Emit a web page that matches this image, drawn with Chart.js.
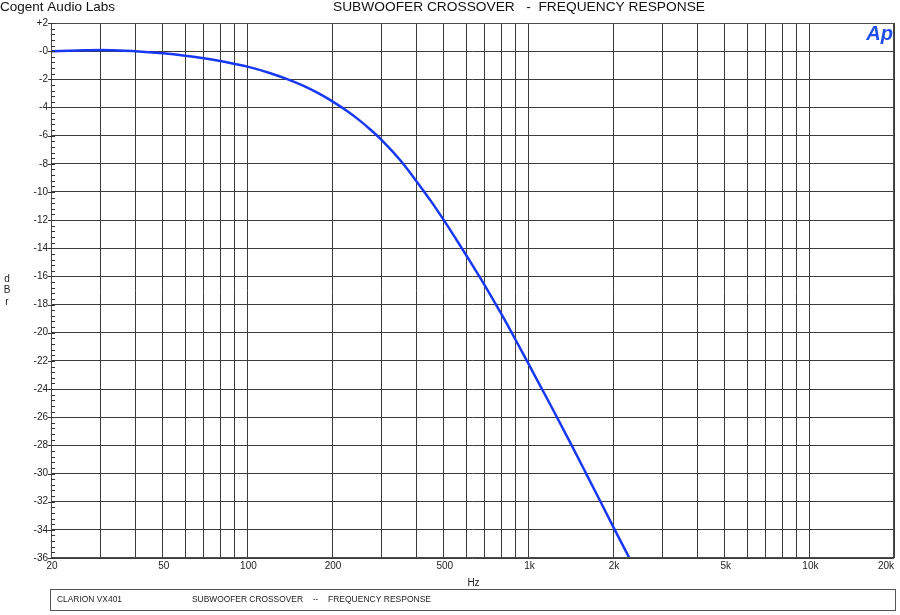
<!DOCTYPE html>
<html>
<head>
<meta charset="utf-8">
<script src="https://cdn.jsdelivr.net/npm/chart.js@4"></script>
<style>
  html, body { margin: 0; padding: 0; background: #ffffff; }
  #wrap { width: 900px; height: 615px; position: relative; }
</style>
</head>
<body>
<div id="wrap"><canvas id="c" width="900" height="615"></canvas></div>
<script>
// ---- data ----
const freqHz = [20, 25, 30, 35, 40, 50, 60, 70, 80, 90, 100, 120, 140, 160, 180, 200, 225, 250, 275, 300, 350, 400, 450, 500, 550, 600, 700, 800, 900, 1000, 1200, 1400, 1600, 1800, 2000, 2300];
const levelDb = [0.0, 0.05, 0.08, 0.05, 0.0, -0.15, -0.32, -0.5, -0.7, -0.91, -1.1, -1.55, -2.02, -2.5, -3.02, -3.55, -4.22, -4.9, -5.6, -6.3, -7.75, -9.25, -10.65, -12.0, -13.28, -14.48, -16.65, -18.65, -20.5, -22.2, -25.15, -27.7, -29.95, -31.95, -33.75, -36.1];

const xGridHz = [20, 30, 40, 50, 60, 70, 80, 90, 100, 200, 300, 400, 500, 600, 700, 800, 900, 1000, 2000, 3000, 4000, 5000, 6000, 7000, 8000, 9000, 10000, 20000];
const xLabelHz = [20, 50, 100, 200, 500, 1000, 2000, 5000, 10000, 20000];
const xLabelText = ['20', '50', '100', '200', '500', '1k', '2k', '5k', '10k', '20k'];
const yTickDb = [2, 0, -2, -4, -6, -8, -10, -12, -14, -16, -18, -20, -22, -24, -26, -28, -30, -32, -34, -36];
const yLabelText = ['+2', '-0', '-2', '-4', '-6', '-8', '-10', '-12', '-14', '-16', '-18', '-20', '-22', '-24', '-26', '-28', '-30', '-32', '-34', '-36'];

const companyText = 'Cogent Audio Labs';
const titleText = 'SUBWOOFER CROSSOVER   -  FREQUENCY RESPONSE';
const yAxisText = ['d', 'B', 'r'];
const xAxisText = 'Hz';
const footDevice = 'CLARION VX401';
const footTitle = 'SUBWOOFER CROSSOVER';
const footDash = '--';
const footSub = 'FREQUENCY RESPONSE';
const logoText = 'Ap';

const FONT = '"Liberation Sans", Arial, Helvetica, sans-serif';

function fitText(ctx, text, x, y, width) {
  const w = ctx.measureText(text).width;
  ctx.save();
  ctx.translate(x, y);
  ctx.scale(width / w, 1);
  ctx.fillText(text, 0, 0);
  ctx.restore();
}

const decor = {
  id: 'decor',
  afterDraw(chart) {
    const ctx = chart.ctx;
    const a = chart.chartArea;
    const xs = chart.scales.x, ys = chart.scales.y;
    ctx.save();

    // frame
    ctx.strokeStyle = '#4a4a4a';
    ctx.lineWidth = 1;
    ctx.strokeRect(Math.round(a.left) + 0.5, Math.round(a.top) + 0.5, Math.round(a.right - a.left) - 1, Math.round(a.bottom - a.top) - 1);

    // minor y ticks every 0.4 dB, major ticks outside
    ctx.strokeStyle = '#333';
    ctx.beginPath();
    for (let i = 0; i <= 95; i++) {
      const v = 2 - i * 0.4;
      const y = Math.round(ys.getPixelForValue(v)) + 0.5;
      ctx.moveTo(a.left, y);
      ctx.lineTo(a.left + 4, y);
    }
    yTickDb.forEach(v => {
      const y = Math.round(ys.getPixelForValue(v)) + 0.5;
      ctx.moveTo(a.left - 3, y);
      ctx.lineTo(a.left, y);
    });
    ctx.stroke();

    // y labels
    ctx.fillStyle = '#222';
    ctx.font = '10px ' + FONT;
    ctx.textAlign = 'right';
    ctx.textBaseline = 'middle';
    yTickDb.forEach((v, i) => {
      ctx.fillText(yLabelText[i], a.left - 3, ys.getPixelForValue(v));
    });

    // x labels
    ctx.textAlign = 'center';
    ctx.textBaseline = 'middle';
    xLabelHz.forEach((v, i) => {
      let x = xs.getPixelForValue(v) + 1;
      const w = ctx.measureText(xLabelText[i]).width;
      if (x + w / 2 > a.right) x = a.right - w / 2;
      ctx.fillText(xLabelText[i], x, a.bottom + 8);
    });

    // axis titles
    ctx.fillText(xAxisText, (a.left + a.right) / 2 + 1, 583);
    yAxisText.forEach((t, i) => ctx.fillText(t, 7, 279 + i * 11.7));

    // header
    ctx.fillStyle = '#111';
    ctx.font = '13.5px ' + FONT;
    ctx.textAlign = 'left';
    fitText(ctx, companyText, 0, 7, 115);
    fitText(ctx, titleText, 333, 7, 372);

    // logo
    ctx.fillStyle = '#1f4fe8';
    ctx.font = 'italic bold 20px ' + FONT;
    ctx.textAlign = 'right';
    ctx.textBaseline = 'alphabetic';
    ctx.fillText(logoText, 893, 40);

    // footer box
    ctx.strokeStyle = '#555';
    ctx.strokeRect(50.5, 589.5, 845, 21);
    ctx.fillStyle = '#222';
    ctx.font = '9px ' + FONT;
    ctx.textAlign = 'left';
    ctx.textBaseline = 'middle';
    fitText(ctx, footDevice, 57, 600, 65);
    fitText(ctx, footTitle, 192, 600, 111);
    fitText(ctx, footDash, 313, 600, 5);
    fitText(ctx, footSub, 328, 600, 103);
    ctx.restore();
  }
};

new Chart(document.getElementById('c'), {
  type: 'line',
  data: {
    datasets: [{
      data: freqHz.map((f, i) => ({ x: f, y: levelDb[i] })),
      borderColor: '#1838f2',
      borderWidth: 2.5,
      pointRadius: 0,
      fill: false,
      tension: 0.4,
      cubicInterpolationMode: 'monotone'
    }]
  },
  options: {
    responsive: false,
    animation: false,
    devicePixelRatio: 1,
    layout: { padding: { left: 51, top: 23, right: 6, bottom: 57 } },
    plugins: { legend: { display: false }, tooltip: { enabled: false }, title: { display: false } },
    scales: {
      x: {
        type: 'logarithmic', min: 20, max: 20000,
        afterBuildTicks: s => { s.ticks = xGridHz.map(v => ({ value: v })); },
        ticks: { display: false },
        grid: { color: '#3c3c3c', lineWidth: 1, drawTicks: false },
        border: { display: false }
      },
      y: {
        type: 'linear', min: -36, max: 2,
        afterBuildTicks: s => { s.ticks = yTickDb.map(v => ({ value: v })); },
        ticks: { display: false },
        grid: { color: '#3c3c3c', lineWidth: 1, drawTicks: false },
        border: { display: false }
      }
    }
  },
  plugins: [decor]
});
</script>
</body>
</html>
